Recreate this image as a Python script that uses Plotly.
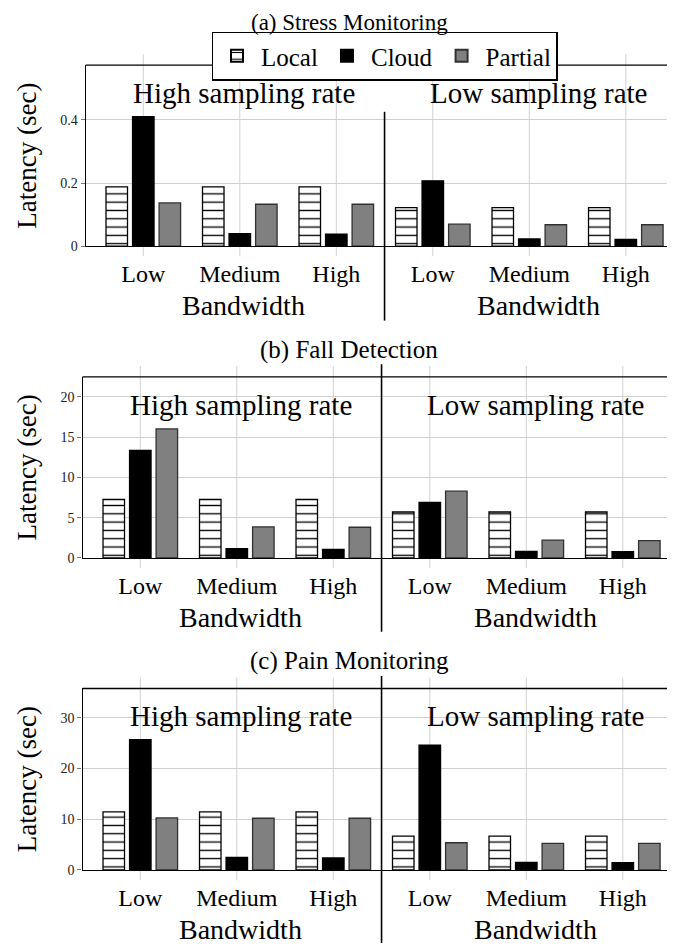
import plotly.graph_objects as go

# ---------------- data ----------------
categories = ["Low", "Medium", "High", "Low", "Medium", "High"]
group_labels = ["High sampling rate", "Low sampling rate"]
series_names = ["Local", "Cloud", "Partial"]
panel_titles = ["(a) Stress Monitoring", "(b) Fall Detection", "(c) Pain Monitoring"]

stress_local = [0.188, 0.188, 0.188, 0.122, 0.122, 0.122]
stress_cloud = [0.410, 0.040, 0.038, 0.207, 0.023, 0.022]
stress_partial = [0.137, 0.133, 0.133, 0.070, 0.068, 0.068]

fall_local = [7.25, 7.25, 7.25, 5.70, 5.70, 5.70]
fall_cloud = [13.35, 1.15, 1.07, 6.90, 0.82, 0.78]
fall_partial = [16.00, 3.85, 3.81, 8.28, 2.21, 2.15]

pain_local = [11.44, 11.44, 11.44, 6.67, 6.67, 6.67]
pain_cloud = [25.70, 2.48, 2.35, 24.64, 1.50, 1.44]
pain_partial = [10.26, 10.20, 10.20, 5.36, 5.23, 5.23]

stress_ticks = [0, 0.2, 0.4]
stress_ticktext = ["0", "0.2", "0.4"]
fall_ticks = [0, 5, 10, 15, 20]
pain_ticks = [0, 10, 20, 30]

panels_data = [
    (stress_local, stress_cloud, stress_partial, stress_ticks, stress_ticktext, 0.573),
    (fall_local, fall_cloud, fall_partial, fall_ticks, [str(v) for v in fall_ticks], 22.46),
    (pain_local, pain_cloud, pain_partial, pain_ticks, [str(v) for v in pain_ticks], 35.8),
]

# ---------------- layout geometry (page pixels) ----------------
PAGE_W, PAGE_H = 675, 951
OFF = 8  # page body margin
W, H = PAGE_W - OFF, PAGE_H - OFF
SPACING = 96.5
geom = [
    dict(left=85.7, first=143.3, top=65.7, bottom=248.3, title_y=OFF, title_size=23, title_anchor="top",
         div_top=112.7, div_bot=323.3),
    dict(left=82.5, first=140.3, top=380.0, bottom=562.7, title_y=353, title_size=25, title_anchor="middle",
         div_top=367.3, div_bot=637.0),
    dict(left=82.5, first=140.3, top=694.3, bottom=877.3, title_y=667, title_size=25, title_anchor="middle",
         div_top=681.7, div_bot=951.0),
]

FONT = "Liberation Serif"


def py(p):
    return 1 - (p - OFF) / H


def pxx(p):
    return (p - OFF) / W


x_pos = list(range(len(categories)))

fig = go.Figure()
shapes = []
annotations = []

styles = [
    dict(marker=dict(color="white", line=dict(color="black", width=1.3),
                     pattern=dict(shape="-", fgcolor="black", bgcolor="white", size=8.3, solidity=0.16,
                                  fillmode="replace"))),
    dict(marker=dict(color="black", line=dict(color="black", width=1.3))),
    dict(marker=dict(color="#808080", line=dict(color="#303030", width=1.3))),
]

for k, (g, pdata) in enumerate(zip(geom, panels_data)):
    n = "" if k == 0 else str(k + 1)
    xa, ya = "x" + n, "y" + n
    local, cloud, partial, tv, tt, ymax = pdata
    xmin = -(g["first"] - g["left"]) / SPACING
    xmax = (PAGE_W - g["first"]) / SPACING

    for s, (name, vals) in enumerate(zip(series_names, [local, cloud, partial])):
        fig.add_trace(go.Bar(x=x_pos, y=vals, name=name, xaxis=xa, yaxis=ya,
                             legendgroup=name, showlegend=(k == 0), **styles[s]))

    fig.layout["xaxis" + n] = dict(
        domain=[pxx(g["left"]), 1.0], range=[xmin, xmax], anchor=ya,
        tickvals=x_pos, ticktext=categories, showgrid=False,
        showline=True, linecolor="black", linewidth=1.3, mirror=False,
        ticks="", tickfont=dict(family=FONT, size=24, color="black"),
        ticklabelstandoff=6, zeroline=False, fixedrange=True,
    )
    fig.layout["yaxis" + n] = dict(
        domain=[py(g["bottom"]), py(g["top"])], range=[0, ymax], anchor=xa,
        tickvals=tv, ticktext=tt, showgrid=True, gridcolor="#d0d0d0", gridwidth=1,
        showline=True, linecolor="black", linewidth=1.3, mirror=False,
        ticks="outside", ticklen=4, tickcolor="#777777",
        tickfont=dict(family=FONT, size=14, color="#222222"),
        zeroline=False, fixedrange=True,
    )

    # vertical grid lines extending past the frame
    for i in x_pos:
        fx = (i - xmin) / (xmax - xmin)
        shapes.append(dict(type="line", xref=xa + " domain", yref="paper",
                           x0=fx, x1=fx, y0=py(g["bottom"] + 10), y1=py(g["top"] - 11),
                           line=dict(color="#d0d0d0", width=1), layer="below"))
    # top frame line
    shapes.append(dict(type="line", xref=xa + " domain", yref=ya + " domain",
                       x0=0, x1=1, y0=1, y1=1, line=dict(color="black", width=1.3), layer="above"))
    # divider between sampling groups
    fd = (2.5 - xmin) / (xmax - xmin)
    shapes.append(dict(type="line", xref=xa + " domain", yref="paper",
                       x0=fd, x1=fd, y0=py(min(g["div_bot"], PAGE_H)), y1=py(g["div_top"]),
                       line=dict(color="black", width=1.6), layer="above"))

    # titles and labels
    annotations.append(dict(text=panel_titles[k], xref="paper", yref="paper",
                            x=pxx(349), y=py(g["title_y"]), xanchor="center", yanchor=g["title_anchor"],
                            showarrow=False, font=dict(family=FONT, size=g["title_size"], color="black")))
    for gi, gl in enumerate(group_labels):
        cx = 1.04 if gi == 0 else 4.1
        annotations.append(dict(text=gl, xref=xa, yref="paper", x=cx, y=py(g["top"] + 28),
                                xanchor="center", yanchor="middle", showarrow=False,
                                font=dict(family=FONT, size=29, color="black")))
        annotations.append(dict(text="Bandwidth", xref=xa, yref="paper", x=cx, y=py(g["bottom"] + 60),
                                xanchor="center", yanchor="middle", showarrow=False,
                                font=dict(family=FONT, size=28, color="black")))
    annotations.append(dict(text="Latency (sec)", xref="paper", yref="paper",
                            x=pxx(27), y=py((g["top"] + g["bottom"]) / 2),
                            xanchor="center", yanchor="middle", textangle=-90, showarrow=False,
                            font=dict(family=FONT, size=27, color="black")))

fig.update_layout(
    width=W, height=H, autosize=False,
    margin=dict(l=0, r=0, t=0, b=0),
    paper_bgcolor="white", plot_bgcolor="white",
    barmode="group", bargap=0.175, bargroupgap=0.19,
    shapes=shapes, annotations=annotations,
    legend=dict(orientation="h", x=pxx(384.7), xanchor="center", y=py(32), yanchor="top",
                bgcolor="white", bordercolor="black", borderwidth=1.3,
                font=dict(family=FONT, size=25, color="black"),
                itemsizing="constant", traceorder="normal", itemwidth=38,
                tracegroupgap=0),
    showlegend=True,
)

fig.write_html("out.html")
